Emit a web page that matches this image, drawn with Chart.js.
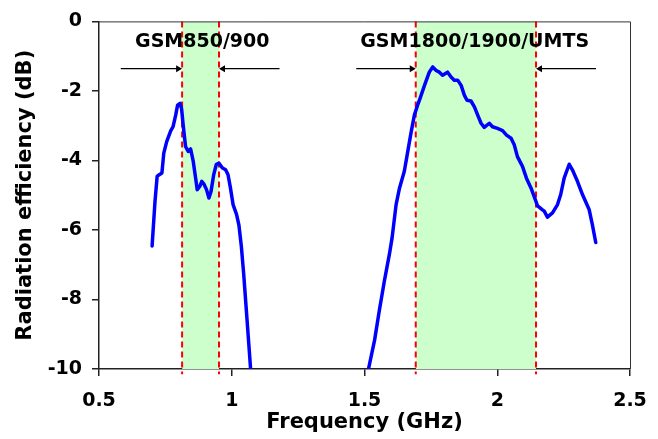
<!DOCTYPE html>
<html>
<head>
<meta charset="utf-8">
<script src="https://cdn.jsdelivr.net/npm/chart.js@4.4.1/dist/chart.umd.min.js"></script>
<style>
  html, body { margin: 0; padding: 0; background: #fff; }
</style>
</head>
<body>
<canvas id="chart" width="658" height="439"></canvas>
<script>
// Radiation efficiency vs frequency, low and high bands, with GSM/UMTS bands shaded.

const freqLow = [0.700, 0.711, 0.719, 0.727, 0.737, 0.744, 0.755, 0.770, 0.779, 0.789,
    0.796, 0.805, 0.811, 0.817, 0.826, 0.836, 0.845, 0.855, 0.864, 0.870,
    0.880, 0.887, 0.896, 0.905, 0.914, 0.922, 0.932, 0.942, 0.952, 0.965,
    0.977, 0.986, 0.995, 1.005, 1.018, 1.027, 1.036, 1.045, 1.055, 1.065, 1.071];
const effLow = [-6.46, -5.17, -4.46, -4.41, -4.36, -3.79, -3.46, -3.15, -3.03, -2.69,
    -2.41, -2.36, -2.51, -2.98, -3.60, -3.74, -3.67, -4.03, -4.51, -4.84,
    -4.74, -4.60, -4.69, -4.84, -5.08, -4.89, -4.41, -4.11, -4.08, -4.22,
    -4.27, -4.41, -4.79, -5.27, -5.55, -5.86, -6.46, -7.27, -8.31, -9.36, -10];

const freqHigh = [1.515, 1.538, 1.556, 1.575, 1.594, 1.604, 1.619, 1.632, 1.650, 1.663,
    1.676, 1.688, 1.700, 1.709, 1.726, 1.744, 1.757, 1.770, 1.782, 1.794,
    1.813, 1.826, 1.838, 1.851, 1.864, 1.876, 1.886, 1.901, 1.914, 1.926,
    1.939, 1.951, 1.970, 1.982, 2.001, 2.020, 2.035, 2.052, 2.064, 2.076,
    2.095, 2.110, 2.127, 2.143, 2.152, 2.168, 2.177, 2.189, 2.208, 2.227,
    2.239, 2.252, 2.271, 2.283, 2.302, 2.321, 2.346, 2.358, 2.371];
const effHigh = [-10, -9.17, -8.31, -7.46, -6.69, -6.22, -5.27, -4.79, -4.31, -3.74,
    -3.17, -2.69, -2.41, -2.22, -1.84, -1.46, -1.31, -1.41, -1.46, -1.55,
    -1.46, -1.60, -1.69, -1.69, -1.84, -2.12, -2.27, -2.29, -2.46, -2.69,
    -2.93, -3.05, -2.93, -3.03, -3.08, -3.14, -3.27, -3.36, -3.55, -3.89,
    -4.17, -4.51, -4.79, -5.12, -5.31, -5.41, -5.46, -5.63, -5.51, -5.27,
    -4.98, -4.51, -4.11, -4.27, -4.60, -4.98, -5.41, -5.84, -6.36];

// band edges (GHz) and their labels
const bandStart = [0.813, 1.693];
const bandEnd = [0.952, 2.146];
const bandNames = ['GSM850/900', 'GSM1800/1900/UMTS'];
const bandNameX = [0.889, 1.915];
const bandNameY = -0.6;

// arrows pointing at the band edges
const arrowY = -1.36;
const arrowLeftTail = [0.582, 1.469];
const arrowRightTail = [1.180, 2.372];

const xTicks = [0.5, 1, 1.5, 2, 2.5];
const yTicks = [0, -2, -4, -6, -8, -10];

Chart.defaults.font.family = '"DejaVu Sans", sans-serif';
Chart.defaults.font.weight = 'bold';
Chart.defaults.color = '#000';

const HEAD = 0.015; // arrowhead centre sits this far from the tip, in GHz

const datasets = [];

bandStart.forEach((s, i) => {
    datasets.push({
        data: [{ x: s, y: 0 }, { x: bandEnd[i], y: 0 }],
        fill: { value: -10 },
        backgroundColor: '#ccffcc',
        borderWidth: 0,
        pointRadius: 0,
        order: 5
    });
});

bandStart.concat(bandEnd).forEach(e => {
    datasets.push({
        data: [{ x: e, y: 0 }, { x: e, y: -10.15 }],
        borderColor: '#ff0000',
        borderWidth: 2,
        borderDash: [6, 4],
        pointRadius: 0,
        clip: false,
        order: 3
    });
});

bandStart.forEach((s, i) => {
    datasets.push({
        data: [{ x: arrowLeftTail[i], y: arrowY }, { x: s - HEAD, y: arrowY }],
        borderColor: '#000',
        borderWidth: 1.2,
        pointStyle: 'triangle',
        pointRadius: [0, 4],
        pointRotation: [0, 90],
        pointBackgroundColor: '#000',
        pointBorderColor: '#000',
        pointBorderWidth: 0,
        order: 2
    });
    datasets.push({
        data: [{ x: bandEnd[i] + HEAD, y: arrowY }, { x: arrowRightTail[i], y: arrowY }],
        borderColor: '#000',
        borderWidth: 1.2,
        pointStyle: 'triangle',
        pointRadius: [4, 0],
        pointRotation: [270, 0],
        pointBackgroundColor: '#000',
        pointBorderColor: '#000',
        pointBorderWidth: 0,
        order: 2
    });
});

[[freqLow, effLow], [freqHigh, effHigh]].forEach(([fs, es]) => {
    datasets.push({
        data: fs.map((f, i) => ({ x: f, y: es[i] })),
        borderColor: '#0000ff',
        borderWidth: 3.5,
        borderJoinStyle: 'round',
        borderCapStyle: 'round',
        pointRadius: 0,
        tension: 0,
        order: 0
    });
});

const bandLabels = {
    id: 'bandLabels',
    afterDatasetsDraw(chart) {
        const { ctx, scales: { x, y } } = chart;
        ctx.save();
        ctx.font = 'bold 19px "DejaVu Sans", sans-serif';
        ctx.fillStyle = '#000';
        ctx.textAlign = 'center';
        ctx.textBaseline = 'middle';
        bandNames.forEach((name, i) => {
            ctx.fillText(name, x.getPixelForValue(bandNameX[i]), y.getPixelForValue(bandNameY));
        });
        ctx.restore();
    }
};

const frame = {
    id: 'frame',
    afterDraw(chart) {
        const { ctx, chartArea: a } = chart;
        ctx.save();
        ctx.strokeStyle = '#333';
        ctx.lineWidth = 1;
        ctx.beginPath();
        ctx.moveTo(a.left, a.top + 0.5);
        ctx.lineTo(a.right + 0.5, a.top + 0.5);
        ctx.lineTo(a.right + 0.5, a.bottom);
        ctx.stroke();
        ctx.restore();
    }
};

new Chart(document.getElementById('chart').getContext('2d'), {
    type: 'line',
    data: { datasets: datasets },
    options: {
        responsive: false,
        devicePixelRatio: 1,
        animation: false,
        layout: { padding: { top: 19, right: 28, left: 0, bottom: 0 } },
        plugins: {
            legend: { display: false },
            tooltip: { enabled: false }
        },
        scales: {
            x: {
                type: 'linear',
                min: 0.5,
                max: 2.5,
                afterBuildTicks: s => { s.ticks = xTicks.map(v => ({ value: v })); },
                afterFit: s => {
                    s.height = 70;
                    s.paddingLeft = 0;
                    s.paddingRight = 0;
                },
                grid: { drawOnChartArea: false, tickLength: 7, color: '#222', lineWidth: 1.5 },
                border: { color: '#222', width: 1.5 },
                ticks: {
                    font: { size: 19 },
                    padding: 14,
                    maxRotation: 0,
                    autoSkip: false,
                    callback: v => String(v)
                },
                title: {
                    display: true,
                    text: 'Frequency (GHz)',
                    font: { size: 21 },
                    padding: { top: 0, bottom: 4 }
                }
            },
            y: {
                type: 'linear',
                min: -10,
                max: 0,
                afterBuildTicks: s => { s.ticks = yTicks.map(v => ({ value: v })); },
                afterFit: s => { s.width = 99; },
                grid: { drawOnChartArea: false, tickLength: 7, color: '#222', lineWidth: 1.5 },
                border: { color: '#222', width: 1.5 },
                ticks: { font: { size: 19 }, padding: 10 },
                title: {
                    display: true,
                    text: 'Radiation efficiency (dB)',
                    font: { size: 21 },
                    padding: { top: 13, bottom: 0 }
                }
            }
        }
    },
    plugins: [bandLabels, frame]
});
</script>
</body>
</html>
